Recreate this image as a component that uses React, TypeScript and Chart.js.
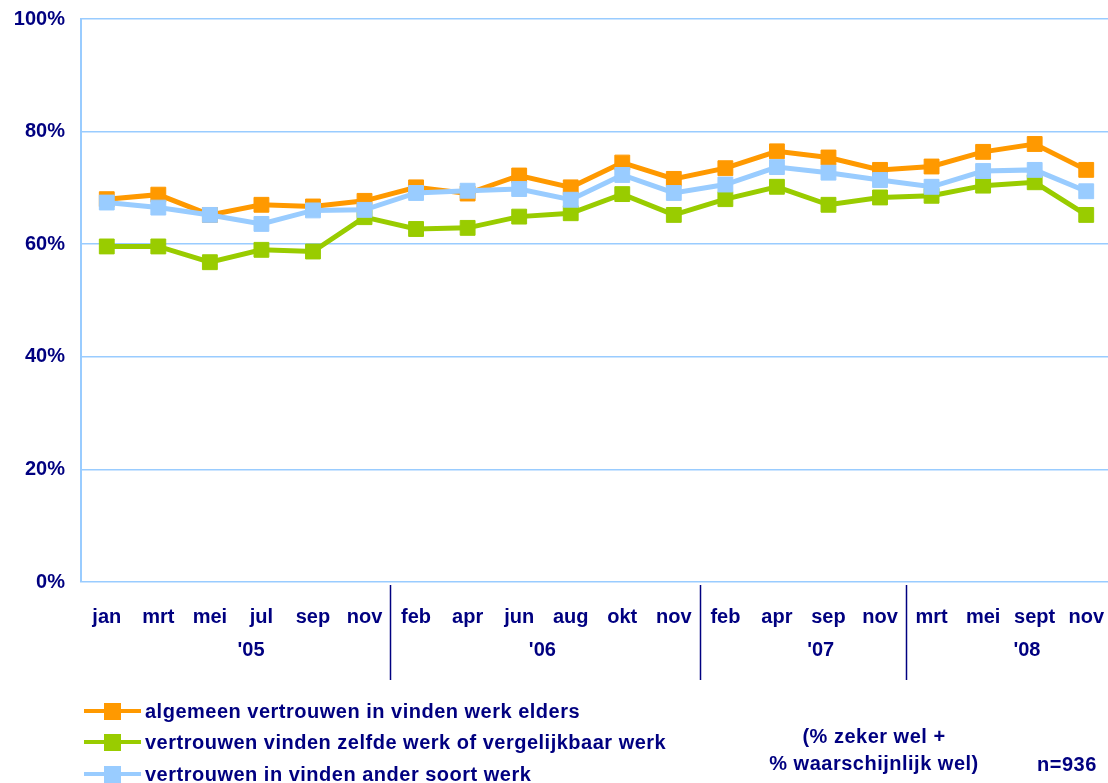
import React, { useEffect, useRef } from "react";
import { Chart, registerables } from "chart.js";

Chart.register(...registerables);

const categories = ["jan", "mrt", "mei", "jul", "sep", "nov", "feb", "apr", "jun", "aug", "okt", "nov", "feb", "apr", "sep", "nov", "mrt", "mei", "sept", "nov"];
const algemeen = [68.0, 68.8, 65.2, 67.0, 66.7, 67.7, 70.1, 69.0, 72.2, 70.1, 74.5, 71.6, 73.5, 76.5, 75.4, 73.2, 73.8, 76.4, 77.8, 73.2];
const zelfde = [59.6, 59.6, 56.8, 59.0, 58.7, 64.8, 62.7, 62.9, 64.9, 65.5, 68.9, 65.2, 68.0, 70.2, 67.0, 68.3, 68.6, 70.4, 71.0, 65.2];
const ander = [67.4, 66.5, 65.2, 63.6, 66.0, 66.1, 69.1, 69.5, 69.8, 67.9, 72.3, 69.1, 70.6, 73.7, 72.7, 71.4, 70.2, 73.0, 73.2, 69.4];
const seriesNames = [
  "algemeen vertrouwen in vinden werk elders",
  "vertrouwen vinden zelfde werk of vergelijkbaar werk",
  "vertrouwen in vinden ander soort werk",
];
const years = ["'05", "'06", "'07", "'08"];
const yearGroupLastIndex = [5, 11, 15, 19];
const yearLabelAnchor = [2.8, 8.45, 13.85, 17.85];
const yTicks = [0, 20, 40, 60, 80, 100];
const noteLines = ["(% zeker wel +", "% waarschijnlijk wel)"];
const sampleNote = "n=936";

const NAVY = "#000080";
const FONT = "'Liberation Sans', Arial, sans-serif";
const COLORS = ["#FF9900", "#99CC00", "#99CCFF"];

const yearPlugin = {
  id: "yearGroups",
  afterDraw(chart: any) {
    const ctx = chart.ctx;
    const x = chart.scales.x;
    ctx.save();
    ctx.strokeStyle = NAVY;
    ctx.lineWidth = 1.5;
    yearGroupLastIndex.forEach((last, i) => {
      if (i === yearGroupLastIndex.length - 1) return;
      const px = Math.round(x.getPixelForValue(last + 0.5)) + 0.5;
      ctx.beginPath();
      ctx.moveTo(px, 585);
      ctx.lineTo(px, 680);
      ctx.stroke();
    });
    ctx.fillStyle = NAVY;
    ctx.font = `bold 20px ${FONT}`;
    ctx.textAlign = "center";
    ctx.textBaseline = "middle";
    years.forEach((y, i) => {
      ctx.fillText(y, x.getPixelForValue(yearLabelAnchor[i]), 650);
    });
    ctx.restore();
  },
};

export default function App() {
  const ref = useRef<HTMLCanvasElement>(null);
  useEffect(() => {
    if (!ref.current) return;
    const seriesData = [algemeen, zelfde, ander];
    const chart = new Chart(ref.current, {
      type: "line",
      data: {
        labels: categories,
        datasets: seriesData.map((d, i) => ({
          label: seriesNames[i],
          data: d,
          borderColor: COLORS[i],
          backgroundColor: COLORS[i],
          borderWidth: 5,
          pointStyle: "rect",
          pointRadius: 10.5,
          pointBorderWidth: 1,
          pointBackgroundColor: COLORS[i],
          pointBorderColor: COLORS[i],
          tension: 0,
          order: 3 - i,
          fill: false,
        })),
      },
      options: {
        responsive: false,
        animation: false,
        layout: { autoPadding: false, padding: { top: 19, left: 0, right: 0, bottom: 0 } },
        plugins: { legend: { display: false }, tooltip: { enabled: false } },
        scales: {
          x: {
            offset: true,
            grid: { display: false, drawTicks: false },
            border: { display: false },
            ticks: {
              font: { family: FONT, size: 20, weight: "bold" },
              color: NAVY,
              padding: 23,
              maxRotation: 0,
              autoSkip: false,
            },
            afterFit: (s: any) => {
              s.height = 201;
              s.paddingLeft = 0;
              s.paddingRight = 0;
            },
          },
          y: {
            min: 0,
            max: 100,
            afterBuildTicks: (s: any) => {
              s.ticks = yTicks.map((v) => ({ value: v }));
            },
            ticks: {
              font: { family: FONT, size: 20, weight: "bold" },
              color: NAVY,
              padding: 16,
              callback: (v: any) => v + "%",
            },
            grid: { color: "#99CCFF", lineWidth: 1.5, drawTicks: false },
            border: { display: true, color: "#99CCFF", width: 2 },
            afterFit: (s: any) => {
              s.width = 81;
              s.paddingTop = 0;
              s.paddingBottom = 0;
            },
          },
        },
      },
      plugins: [yearPlugin],
    } as any);
    return () => chart.destroy();
  }, []);

  const textStyle: React.CSSProperties = {
    position: "absolute",
    fontFamily: FONT,
    fontWeight: "bold",
    fontSize: 20,
    letterSpacing: "0.5px",
    color: NAVY,
    whiteSpace: "nowrap",
    lineHeight: "20px",
  };
  const legendY = [711, 742, 774];

  return (
    <div style={{ position: "absolute", left: 0, top: 0, width: 1108, height: 783, overflow: "hidden", background: "#fff" }}>
      <canvas ref={ref} width={1112} height={783} style={{ display: "block" }} />
      {seriesNames.map((name, i) => (
        <React.Fragment key={i}>
          <div style={{ position: "absolute", left: 84, top: legendY[i] - 2, width: 57, height: 4, background: COLORS[i] }} />
          <div style={{ position: "absolute", left: 104, top: legendY[i] - 8.5, width: 17, height: 17, background: COLORS[i] }} />
          <div style={{ ...textStyle, left: 145, top: legendY[i] - 10 }}>{name}</div>
        </React.Fragment>
      ))}
      <div style={{ ...textStyle, left: 774, width: 200, textAlign: "center", top: 726 }}>{noteLines[0]}</div>
      <div style={{ ...textStyle, left: 764, width: 220, textAlign: "center", top: 753 }}>{noteLines[1]}</div>
      <div style={{ ...textStyle, left: 1037, top: 754 }}>{sampleNote}</div>
    </div>
  );
}
